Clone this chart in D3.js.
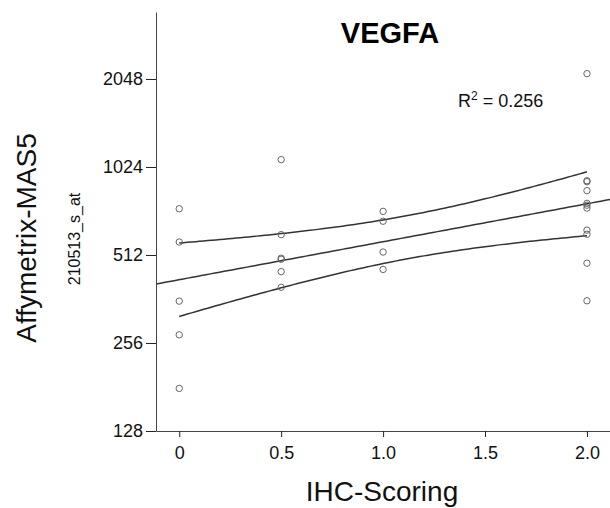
<!DOCTYPE html>
<html>
<head>
<meta charset="utf-8">
<script src="https://cdn.jsdelivr.net/npm/d3@7"></script>
<style>
  html, body { margin: 0; padding: 0; background: #fff; }
  svg { display: block; font-family: "Liberation Sans", Arial, sans-serif; }
</style>
</head>
<body>
<svg id="chart" width="610" height="508"></svg>
<script>
// ---- data ----
const title = "VEGFA";
const xLabel = "IHC-Scoring";
const yLabel = "Affymetrix-MAS5";
const ySubLabel = "210513_s_at";
const r2Text = "0.256";
const xTicks = [0, 0.5, 1.0, 1.5, 2.0];
const xTickLabels = ["0", "0.5", "1.0", "1.5", "2.0"];
const yTicks = [128, 256, 512, 1024, 2048];

const scoreX = [
  0, 0, 0, 0, 0,
  0.5, 0.5, 0.5, 0.5, 0.5, 0.5,
  1, 1, 1, 1,
  2, 2, 2, 2, 2, 2, 2, 2, 2, 2, 2
];
const expressionY = [
  737, 567, 356, 273, 179,
  1085, 601, 499, 495, 449, 397,
  722, 668, 524, 457,
  2136, 919, 912, 850, 769, 758, 741, 623, 603, 480, 357
];

// ---- layout ----
const svg = d3.select("#chart");
const x = d3.scaleLinear().domain([-0.114, 2.113]).range([156, 610]);
const y = d3.scaleLog().base(2).domain([128, 3471]).range([431, 12]);

// ---- regression on log2 scale ----
const pts = scoreX.map((v, i) => ({ x: v, y: Math.log2(expressionY[i]) }));
const n = pts.length;
const mx = d3.mean(pts, d => d.x), my = d3.mean(pts, d => d.y);
const sxx = d3.sum(pts, d => (d.x - mx) ** 2);
const sxy = d3.sum(pts, d => (d.x - mx) * (d.y - my));
const slope = sxy / sxx, icpt = my - slope * mx;
const sse = d3.sum(pts, d => (d.y - (icpt + slope * d.x)) ** 2);
const s = Math.sqrt(sse / (n - 2));
const tval = 2.064;
const fit = v => icpt + slope * v;
const half = v => tval * s * Math.sqrt(1 / n + (v - mx) ** 2 / sxx);

const line = d3.line().x(d => x(d[0])).y(d => y(Math.pow(2, d[1])));
const fitPts = d3.range(0, 101).map(i => { const v = -0.114 + i * (2.227 / 100); return [v, fit(v)]; });
const bandX = d3.range(0, 101).map(i => i * 0.02);
const upper = bandX.map(v => [v, fit(v) + half(v)]);
const lower = bandX.map(v => [v, fit(v) - half(v)]);

[fitPts, upper, lower].forEach(p => {
  svg.append("path").attr("d", line(p)).attr("fill", "none")
    .attr("stroke", "#333").attr("stroke-width", 1.5);
});

// ---- points ----
svg.append("g").selectAll("circle").data(pts).join("circle")
  .attr("cx", d => x(d.x)).attr("cy", d => y(Math.pow(2, d.y)))
  .attr("r", 3.2).attr("fill", "none").attr("stroke", "#666").attr("stroke-width", 1);

// ---- axes ----
const xAxis = d3.axisBottom(x).tickValues(xTicks).tickFormat((d, i) => xTickLabels[i])
  .tickSize(6).tickSizeOuter(0).tickPadding(9);
const gx = svg.append("g").attr("transform", "translate(0,431)").call(xAxis);
const yAxis = d3.axisLeft(y).tickValues(yTicks).tickFormat(d3.format("d"))
  .tickSize(10).tickSizeOuter(0).tickPadding(3);
const gy = svg.append("g").attr("transform", "translate(156,0)").call(yAxis);
[gx, gy].forEach(g => {
  g.select(".domain").attr("stroke", "#444");
  g.selectAll(".tick line").attr("stroke", "#222");
  g.selectAll(".tick text").attr("font-size", 18).attr("fill", "#111")
    .attr("font-family", "'Liberation Sans', Arial, sans-serif");
});

// ---- text ----
svg.append("text").attr("x", 390).attr("y", 43).attr("text-anchor", "middle")
  .attr("font-size", 29).attr("font-weight", "bold").attr("fill", "#000").text(title);

const r2 = svg.append("text").attr("x", 458).attr("y", 107).attr("font-size", 18).attr("fill", "#111");
r2.append("tspan").text("R");
r2.append("tspan").attr("font-size", 12).attr("dy", -7).text("2");
r2.append("tspan").attr("dy", 7).text(" = " + r2Text);

svg.append("text").attr("x", 382).attr("y", 501).attr("text-anchor", "middle")
  .attr("font-size", 28).attr("fill", "#111").text(xLabel);

svg.append("text").attr("transform", "translate(36,238) rotate(-90)").attr("text-anchor", "middle")
  .attr("font-size", 28).attr("fill", "#111").text(yLabel);
svg.append("text").attr("transform", "translate(80,239) rotate(-90)").attr("text-anchor", "middle")
  .attr("font-size", 16).attr("fill", "#111").text(ySubLabel);
</script>
</body>
</html>
